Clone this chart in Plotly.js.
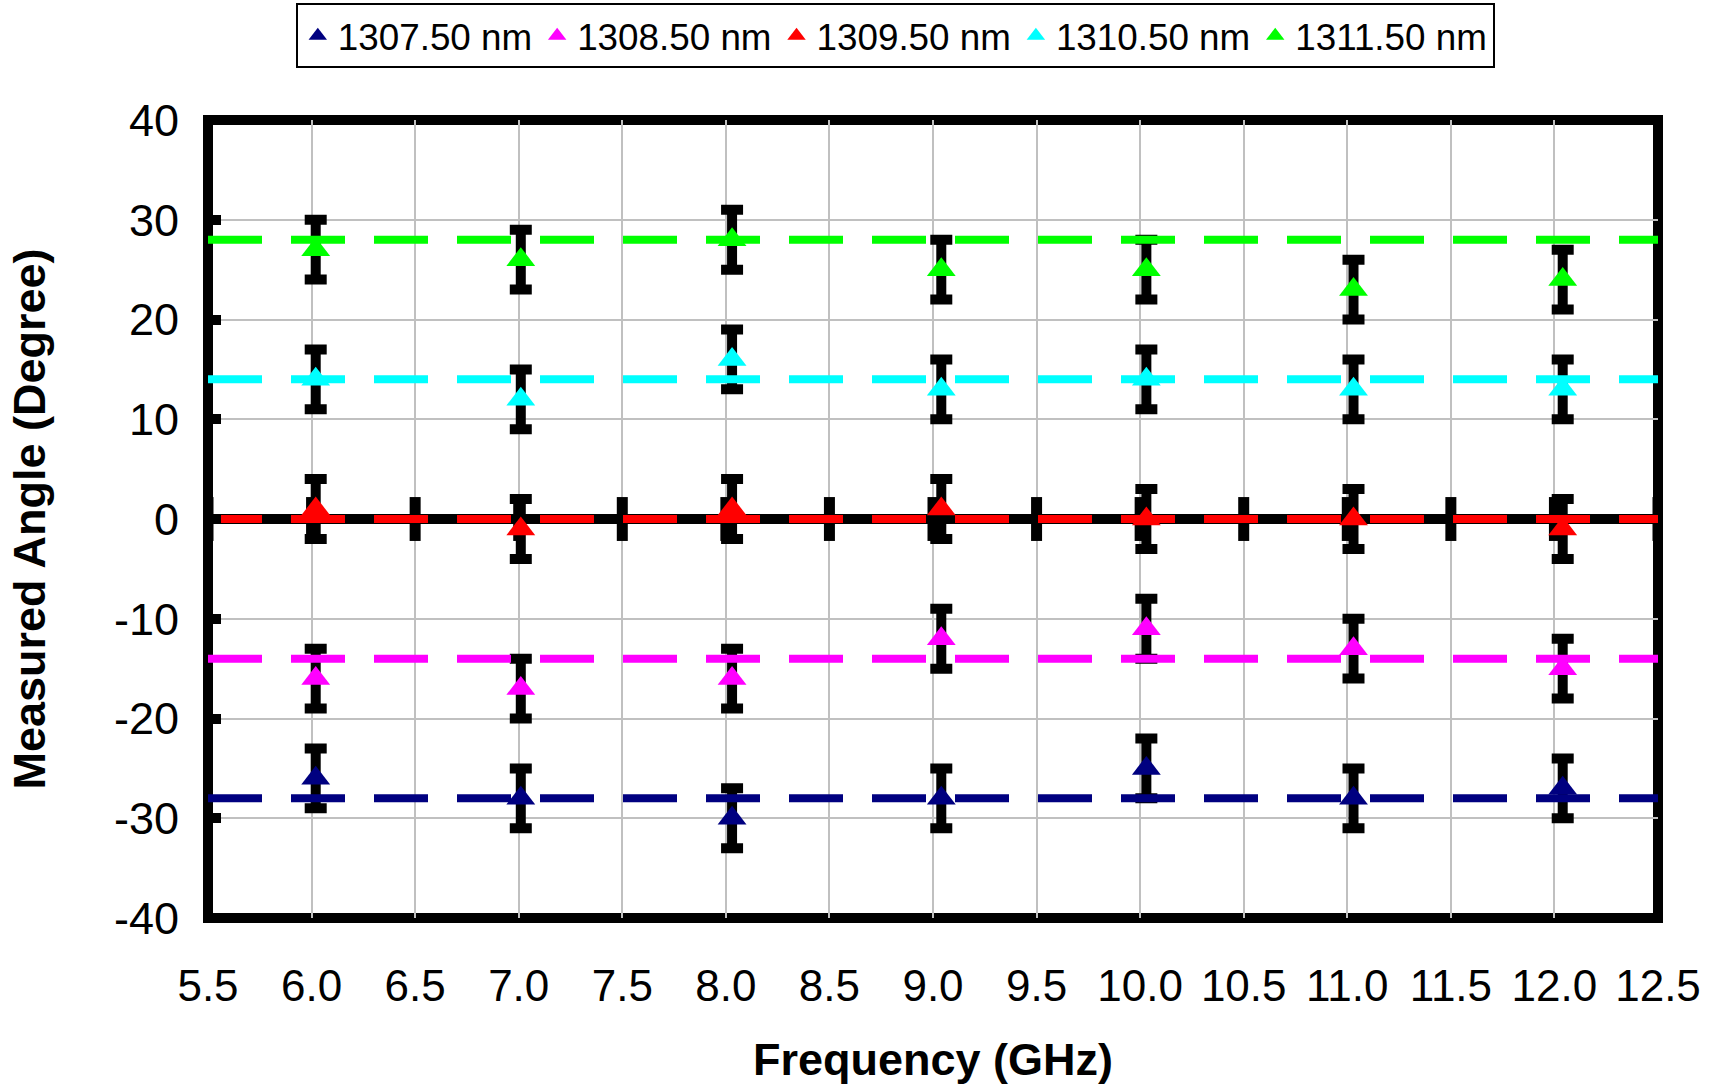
<!DOCTYPE html>
<html>
<head>
<meta charset="utf-8">
<script src="https://cdn.plot.ly/plotly-3.0.1.min.js"></script>
<style>html,body{margin:0;padding:0;background:#fff;}#chart{width:1724px;height:1089px;}</style>
</head>
<body>
<div id="chart"></div>
<script>
// ---- data ----
const seriesNames = ["1307.50 nm", "1308.50 nm", "1309.50 nm", "1310.50 nm", "1311.50 nm"];
const seriesColors = ["#000080", "#FF00FF", "#FF0000", "#00FFFF", "#00FF00"];
const freq = [6.02, 7.01, 8.03, 9.04, 10.03, 11.03, 12.04];
const angle1307 = [-26, -28, -30, -28, -25, -28, -27];
const angle1308 = [-16, -17, -16, -12, -11, -13, -15];
const angle1309 = [1, -1, 1, 1, 0, 0, -1];
const angle1310 = [14, 12, 16, 13, 14, 13, 13];
const angle1311 = [27, 26, 28, 25, 25, 23, 24];
const angleError = [3, 3, 3, 3, 3, 3, 3];
const nominalAngles = [-28, -14, 0, 14, 28];
const xRange = [5.5, 12.5];
const yRange = [-40, 40];
const xTickVals = [5.5, 6.0, 6.5, 7.0, 7.5, 8.0, 8.5, 9.0, 9.5, 10.0, 10.5, 11.0, 11.5, 12.0, 12.5];
const xTickText = ["5.5", "6.0", "6.5", "7.0", "7.5", "8.0", "8.5", "9.0", "9.5", "10.0", "10.5", "11.0", "11.5", "12.0", "12.5"];
const yTickVals = [-40, -30, -20, -10, 0, 10, 20, 30, 40];
const yTickText = ["-40", "-30", "-20", "-10", "0", "10", "20", "30", "40"];

const allAngles = [angle1307, angle1308, angle1309, angle1310, angle1311];

// ---- styles ----
const FONT = '"Liberation Sans", Arial, Helvetica, sans-serif';
const CROSS_TICK_HALF = 2.2; // half length of the cross tick marks on the zero axis (data units)

const traces = [];

// cross tick marks of the horizontal axis that sits on y = 0
const crossX = [], crossY = [];
xTickVals.forEach(t => { crossX.push(t, t, null); crossY.push(-CROSS_TICK_HALF, CROSS_TICK_HALF, null); });
traces.push({
  x: crossX, y: crossY, mode: 'lines', line: {color: '#000', width: 11},
  showlegend: false, hoverinfo: 'skip'
});

// error bars (black)
allAngles.forEach((vals, i) => {
  traces.push({
    x: freq, y: vals, mode: 'markers',
    marker: {size: 1, opacity: 0},
    error_y: {type: 'data', array: angleError, visible: true, color: '#000', thickness: 10, width: 11},
    showlegend: false, hoverinfo: 'skip'
  });
});

// dashed nominal lines
nominalAngles.forEach((v, i) => {
  traces.push({
    x: xRange, y: [v, v], mode: 'lines',
    line: {color: seriesColors[i], width: 8, dash: '54px,29px'},
    showlegend: false, hoverinfo: 'skip'
  });
});

// markers (legend entries)
allAngles.forEach((vals, i) => {
  traces.push({
    x: freq, y: vals, mode: 'markers', name: seriesNames[i],
    marker: {symbol: 'triangle-up', size: 25, color: seriesColors[i]}
  });
});

const layout = {
  width: 1724, height: 1089,
  margin: {l: 208, r: 66, t: 120, b: 171, pad: 0},
  paper_bgcolor: '#fff', plot_bgcolor: '#fff',
  font: {family: FONT, color: '#000'},
  showlegend: true,
  legend: {
    orientation: 'h', xref: 'paper', x: 0.474, xanchor: 'center',
    yref: 'container', y: 0.997, yanchor: 'top',
    bordercolor: '#000', borderwidth: 2, bgcolor: '#fff',
    font: {family: FONT, size: 36.8, color: '#000'}, itemwidth: 30
  },
  shapes: [{
    type: 'rect', xref: 'paper', yref: 'paper', x0: 0, x1: 1, y0: 0, y1: 1,
    line: {color: '#000', width: 10}, fillcolor: 'rgba(0,0,0,0)', layer: 'between'
  }],
  xaxis: {
    range: xRange, tickmode: 'array', tickvals: xTickVals, ticktext: xTickText,
    showgrid: true, gridcolor: '#c0c0c0', gridwidth: 2,
    zeroline: false, showline: false,
    ticks: '', tickfont: {family: FONT, size: 44, color: '#000'}, ticklabelstandoff: 38,
    title: {text: 'Frequency (GHz)', font: {family: FONT, size: 45, weight: 'bold', color: '#000'}, standoff: 34}
  },
  yaxis: {
    range: yRange, tickmode: 'array', tickvals: yTickVals, ticktext: yTickText,
    showgrid: true, gridcolor: '#c0c0c0', gridwidth: 2,
    zeroline: true, zerolinecolor: '#000', zerolinewidth: 10,
    showline: false,
    ticks: 'inside', ticklen: 13, tickwidth: 10, tickcolor: '#000',
    tickfont: {family: FONT, size: 45, color: '#000'}, ticklabelstandoff: 28,
    title: {text: 'Measured Angle (Degree)', font: {family: FONT, size: 45, weight: 'bold', color: '#000'}, standoff: 54}
  }
};

Plotly.newPlot('chart', traces, layout, {displayModeBar: false, responsive: false});
</script>
</body>
</html>
